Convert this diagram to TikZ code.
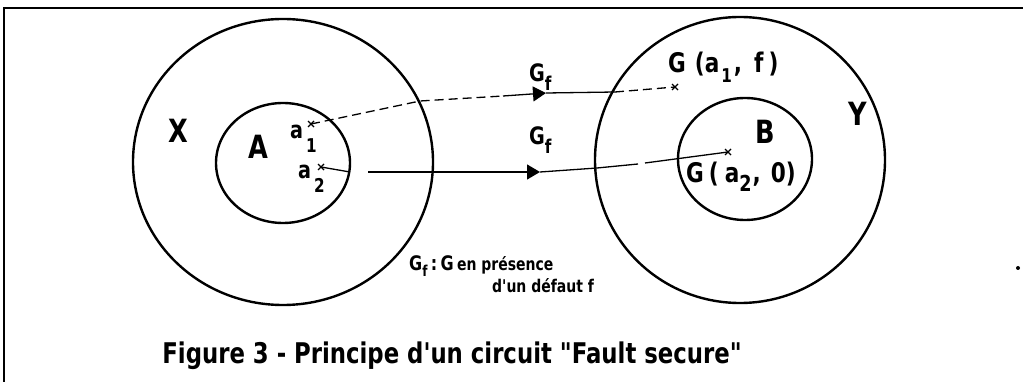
\documentclass[tikz,border=0pt]{standalone}
\usepackage{fontspec}
\newfontfamily\dfont{DejaVu Sans Bold}[FakeStretch=0.8]
\usetikzlibrary{arrows.meta}
\begin{document}
\begin{tikzpicture}[x=1pt,y=-1pt,
  ring/.style={line width=2.4pt},
  conn/.style={line width=1.3pt},
  dsh/.style={conn,dash pattern=on 9pt off 5pt},
  tip/.style={conn,-{Triangle[length=13pt,width=15pt]}},
  big/.style={inner sep=0pt,font=\dfont\fontsize{32}{32}\selectfont},
  mid/.style={inner sep=0pt,font=\dfont\fontsize{24}{26}\selectfont},
  img/.style={inner sep=0pt,font=\dfont\fontsize{27}{28}\selectfont},
  small/.style={inner sep=0pt,font=\dfont\fontsize{20}{24}\selectfont},
  ptmark/.style={line width=1.1pt}]
\useasboundingbox (0,0) rectangle (1023,382);
% frame
\draw[line width=2pt] (4,382) -- (4,8) -- (1023,8);
% sets
\coordinate (cX) at (283,162);
\coordinate (cA) at (283,163);
\coordinate (cY) at (740,160);
\coordinate (cB) at (745,159);
\draw[ring] (cX) ellipse [x radius=150, y radius=143];
\draw[ring] (cA) ellipse [x radius=67, y radius=60];
\draw[ring] (cY) ellipse [x radius=145, y radius=143];
\draw[ring] (cB) ellipse [x radius=67, y radius=61];
% labels of sets
\node[big] (X) at (178,131) {X};
\node[big] (A) at (258,147) {A};
\node[big] (B) at (765,132) {B};
\node[big] (Y) at (858,114) {Y};
% points
\coordinate (a1) at (311,124);
\coordinate (a2) at (321,167);
\coordinate (g1) at (675,87);
\coordinate (g2) at (728,152);
\foreach \p in {a1,a2,g1,g2}{
  \draw[ptmark] ([shift={(-3,-3)}]\p) -- ([shift={(3,3)}]\p)
                ([shift={(-3,3)}]\p) -- ([shift={(3,-3)}]\p);}
\node[mid,anchor=base west] (la1) at (290,139) {a\hspace{3pt}\raisebox{-14pt}{\fontsize{19}{19}\selectfont 1}};
\node[mid,anchor=base west] (la2) at (298,179) {a\hspace{3pt}\raisebox{-14pt}{\fontsize{19}{19}\selectfont 2}};
% upper connector
\coordinate (u1) at (420,101);
\coordinate (u2) at (503,96);
\coordinate (u3) at (546,93);
\coordinate (u4) at (615,92);
\draw[dsh] (a1) -- (u1) -- (u2);
\draw[tip] (u2) -- (u3);
\draw[conn] (u3) -- (u4);
\draw[dsh] (u4) -- (g1);
% lower connector
\coordinate (l1) at (350,172);
\coordinate (l2) at (368,172);
\coordinate (l3) at (540,172);
\coordinate (l4) at (597,168);
\coordinate (l5) at (638,164);
\coordinate (l6) at (645,163);
\draw[conn] (a2) -- (l1);
\draw[tip] (l2) -- (l3);
\draw[conn] (l3) -- (l4) -- (l5);
\draw[conn] (l6) -- (g2);
% G_f labels
\node[mid,anchor=base west] (gf1) at (529,82) {G\raisebox{-9pt}{\fontsize{19}{19}\selectfont f}};
\node[mid,anchor=base west] (gf2) at (529,145) {G\raisebox{-9pt}{\fontsize{19}{19}\selectfont f}};
% images
\node[img,anchor=base west] (lg1) at (668,73) {G\hspace{9pt}(a\raisebox{-10pt}{\fontsize{19}{19}\selectfont\hspace{2pt}1}\hspace{2pt},\hspace{12pt}f\hspace{5pt})};
\node[img,anchor=base west] (lg2) at (686,183) {G\hspace{5pt}(\hspace{6pt}a\raisebox{-9pt}{\fontsize{22}{22}\selectfont 2}\hspace{1pt},\hspace{10pt}0)};
% legend
\node[small,anchor=base west] (leg1) at (409,270) {G\raisebox{-6pt}{\fontsize{15}{16}\selectfont f}\,:\,G\,{\fontsize{17.5}{20}\selectfont en présence}};
\node[small,anchor=base west,font=\dfont\fontsize{17.5}{20}\selectfont] (leg2) at (492,292) {d'un défaut f};
% caption
\node[inner sep=0pt,anchor=base,font=\dfont\fontsize{28.5}{30}\selectfont] (cap) at (452,363) {Figure 3 - Principe d'un circuit "Fault secure"};
% dot
\fill (1018,268) circle (2);
\end{tikzpicture}
\end{document}
